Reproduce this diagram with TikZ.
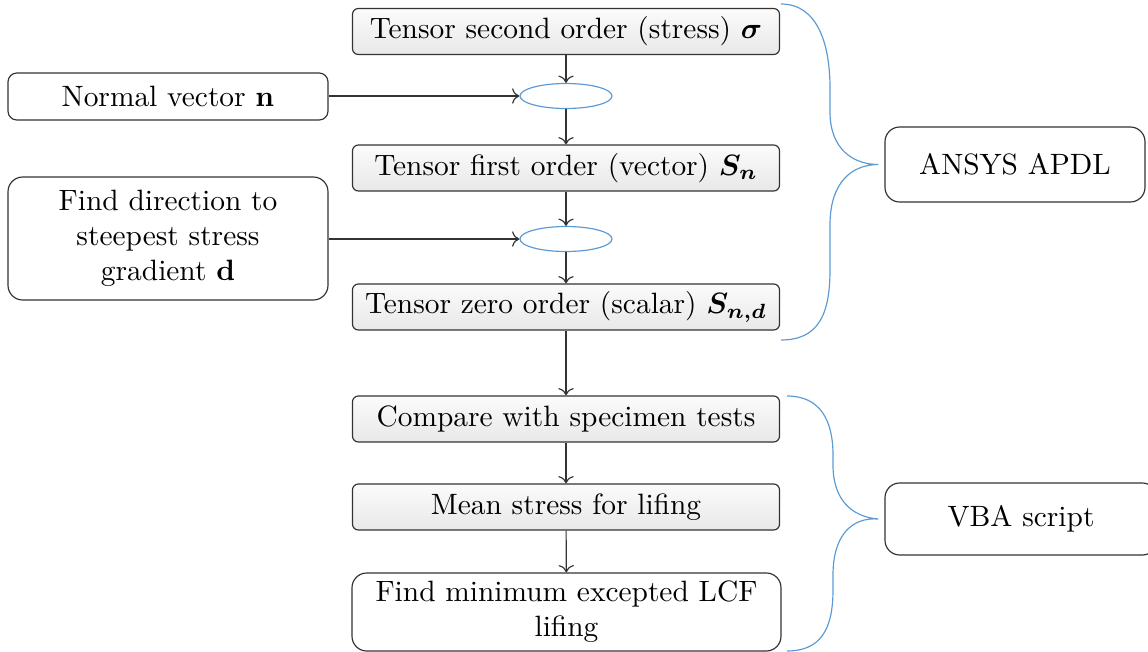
\documentclass[tikz,border=0pt]{standalone}
\usepackage{amsmath,bm}
\usetikzlibrary{shapes.geometric,arrows.meta}
\definecolor{bblue}{HTML}{5B9BD5}
\def\U{0.34pt}
\begin{document}
\begin{tikzpicture}[x=0.34pt,y=-0.34pt,
  gbox/.style={draw=black!80, rounded corners=2pt, top color=gray!3, bottom color=gray!18,
    minimum width=427*\U, minimum height=46*\U, inner sep=0pt},
  wbox/.style={draw=black!80, fill=white, rounded corners=5pt, align=center, inner sep=0pt},
  junc/.style={ellipse, draw=bblue, minimum width=92*\U, minimum height=25*\U, inner sep=0pt},
  arr/.style={->, draw=black!80},
  bracecurve/.style={draw=bblue}]
\useasboundingbox (0,0) rectangle (1148,652);

\node[gbox] (t2) at (566,31.5) {Tensor second order (stress) $\boldsymbol{\sigma}$};
\node[junc] (j1) at (566,96) {};
\node[gbox] (t1) at (566,168) {Tensor first order (vector) $\boldsymbol{S_n}$};
\node[junc] (j2) at (566,239) {};
\node[gbox] (t0) at (566,307) {Tensor zero order (scalar) $\boldsymbol{S_{n,d}}$};
\node[gbox] (cmp) at (566,419) {Compare with specimen tests};
\node[gbox] (mean) at (566,507) {Mean stress for lifing};
\node[wbox, minimum width=429*\U, minimum height=78*\U] (lcf) at (566.5,612) {Find minimum excepted LCF\\lifing};

\node[wbox, rounded corners=3pt, minimum width=320*\U, minimum height=47*\U] (nv) at (168,96.5) {Normal vector $\mathbf{n}$};
\node[wbox, minimum width=320*\U, minimum height=123*\U] (dir) at (168,238.5) {Find direction to\\steepest stress\\gradient $\mathbf{d}$};

\node[wbox, minimum width=260*\U, minimum height=75*\U] (ansys) at (1015,164.5) {ANSYS APDL};
\node[wbox, minimum width=272*\U, minimum height=72*\U] (vba) at (1021,519) {VBA script};

\draw[arr] (t2) -- (j1);
\draw[arr] (j1) -- (t1);
\draw[arr] (t1) -- (j2);
\draw[arr] (j2) -- (t0);
\draw[arr] (t0) -- (cmp);
\draw[arr] (cmp) -- (mean);
\draw[arr] (mean) -- (lcf);
\draw[arr] (nv.east |- j1.west) -- (j1.west);
\draw[arr] (dir.east |- j2.west) -- (j2.west);

\coordinate (b1t) at (781,4);
\coordinate (b1b) at (781,340);
\coordinate (b1m) at ([xshift=-6*\U]ansys.west);
\draw[bracecurve] (b1t) .. controls (818,4) and (830,45) .. (830,88)
  -- (830,112) .. controls (830,148) and (852,164.5) .. (b1m)
  .. controls (852,164.5) and (830,182) .. (830,225)
  -- (830,270) .. controls (830,315) and (818,340) .. (b1b);

\coordinate (b2t) at (787,396);
\coordinate (b2b) at (787,651);
\coordinate (b2m) at ([xshift=-6*\U]vba.west);
\draw[bracecurve] (b2t) .. controls (820,396) and (833,420) .. (833,455)
  -- (833,465) .. controls (833,500) and (852,517) .. (b2m)
  .. controls (852,517) and (833,535) .. (833,575)
  -- (833,590) .. controls (833,630) and (820,651) .. (b2b);
\end{tikzpicture}
\end{document}
